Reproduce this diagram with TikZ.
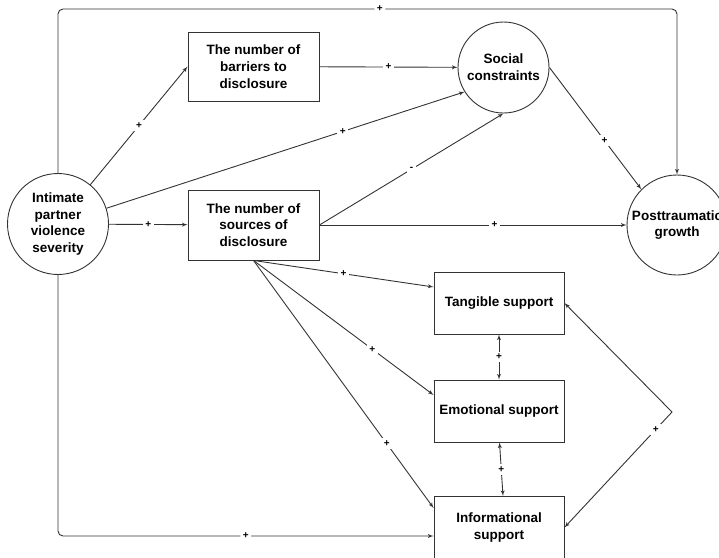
\documentclass[tikz,border=0pt]{standalone}
\usepackage{fontspec}
\setmainfont{Liberation Sans}
\usepackage{tikz}
\tikzset{>=latex}
\usetikzlibrary{arrows}

\begin{document}
\begin{tikzpicture}[x=1pt,y=-1pt]
			\tikzset{edge/.style = {->,> = latex', draw=black!80, line width=0.9pt}}
			\tikzset{twoway/.style = {<->,> = latex', draw=black!80, line width=0.9pt}}
			\tikzset{circ/.style = {circle, draw=black!80, line width=0.9pt, inner sep=0pt, align=center, font=\bfseries\fontsize{13.5}{16.8}\selectfont}}
			\tikzset{box/.style = {rectangle, draw=black!80, line width=0.9pt, inner sep=0pt, align=center, minimum width=130pt, minimum height=62pt, font=\bfseries\fontsize{13.5}{16.8}\selectfont}}
			\tikzset{sign/.style = {fill=white, inner sep=2.5pt, font=\bfseries\fontsize{10}{11}\selectfont}}

			\useasboundingbox (0,0) rectangle (719,557);

			\node[circ, minimum size=101pt] (ipv) at (58,224) {Intimate\\partner\\violence\\severity};
			\node[box, minimum width=131pt, minimum height=69pt] (barriers) at (253.5,66.5) {The number of\\barriers to\\disclosure};
			\node[circ, minimum size=91pt] (social) at (503.5,67.5) {Social\\constraints};
			\node[box, minimum width=131pt, minimum height=70pt] (sources) at (253.5,225) {The number of\\sources of\\disclosure};
			\node[circ, minimum size=100pt] (growth) at (677,225) {Posttraumatic\\growth};
			\node[box] (tangible) at (499,303) {Tangible support};
			\node[box] (emotional) at (499,411) {Emotional support};
			\node[box] (informational) at (499,527.5) {Informational\\support};
			\coordinate (top) at (677,9);
			\coordinate (corner) at (672,412);

			\draw[edge, rounded corners=5pt] (ipv.north) |- node[sign, pos=0.76] {+} (top) -- (growth.north);
			\draw[edge] (ipv) -- node[sign, midway] {+} (barriers.west);
			\draw[edge] (ipv) -- node[sign, pos=0.66] {+} (social.212);
			\draw[edge] (ipv) -- node[sign, midway] {+} (sources);
			\draw[edge, rounded corners=5pt] (ipv.south) |- node[sign, pos=0.75] {+} ([yshift=-8.5pt]informational.west);
			\draw[edge] (barriers) -- node[sign, midway] {+} (social);
			\draw[edge] (sources.east) -- node[sign, midway] {-} (social.south);
			\draw[edge] (sources) -- node[sign, pos=0.57] {+} (growth);
			\draw[edge] (social.east) -- node[sign, pos=0.6] {+} (growth.135);
			\draw[edge] (sources.south) -- node[sign, midway] {+} ([yshift=16pt]tangible.west);
			\draw[edge] (sources.south) -- node[sign, pos=0.66] {+} ([yshift=16pt]emotional.west);
			\draw[edge] (sources.south) -- node[sign, pos=0.74] {+} ([yshift=19.5pt]informational.west);
			\draw[twoway] (tangible) -- node[sign, midway] {+} (emotional);
			\draw[twoway] ([xshift=0.5pt]emotional.south) -- node[sign, midway] {+} ([xshift=4pt]informational.north);
			\draw[twoway] (tangible.east) -- (corner) -- node[sign, pos=0.15] {+} (informational.east);
		\end{tikzpicture}
\end{document}
